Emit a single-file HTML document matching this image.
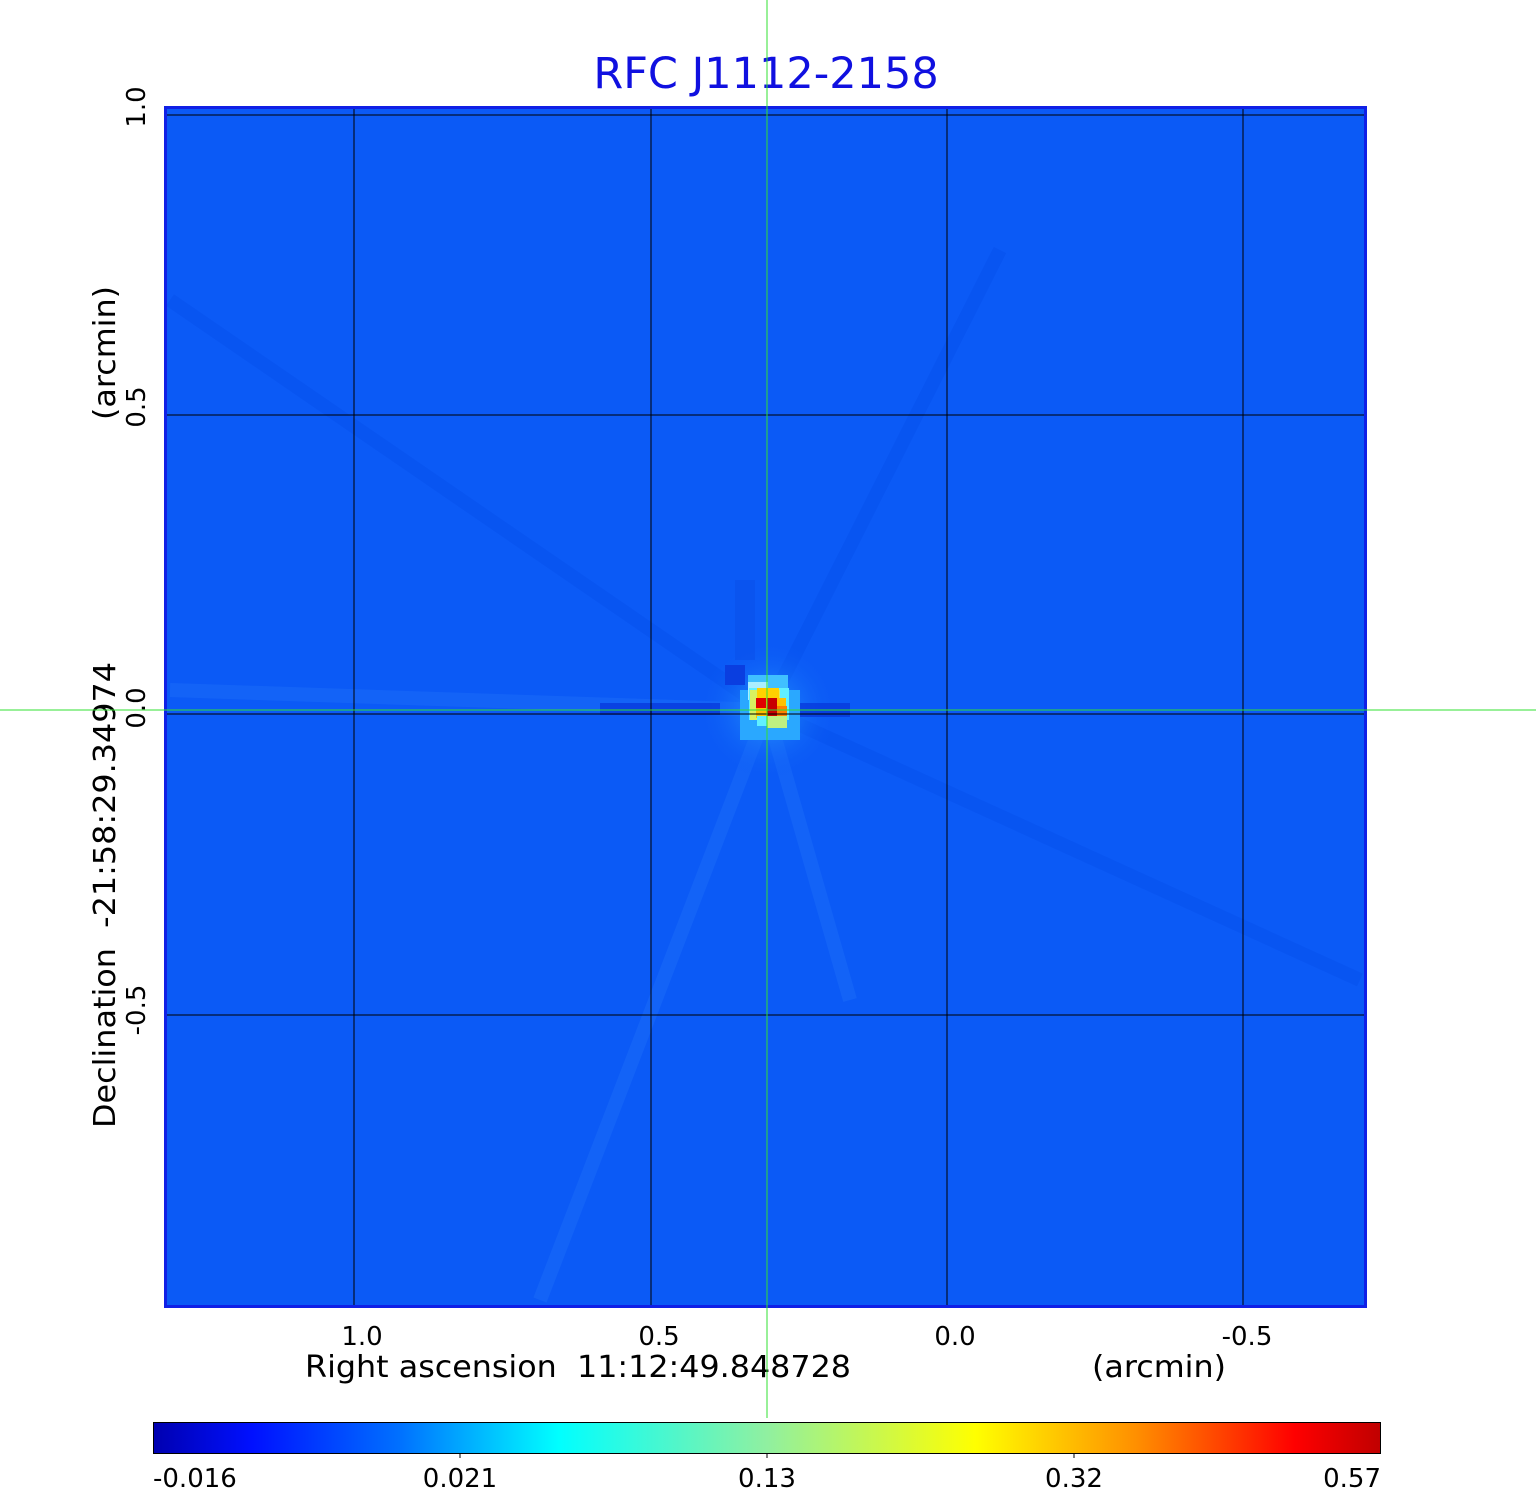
<!DOCTYPE html>
<html><head><meta charset="utf-8"><style>
html,body{margin:0;padding:0;background:#fff;}
svg{display:block;}
text{font-family:"DejaVu Sans","Liberation Sans",sans-serif;white-space:pre;}
</style></head><body>
<svg width="1536" height="1511" viewBox="0 0 1536 1511" xmlns="http://www.w3.org/2000/svg" xml:space="preserve">
<defs>
<linearGradient id="jet" x1="0" x2="1" y1="0" y2="0">
<stop offset="0" stop-color="#0000b0"/>
<stop offset="0.08" stop-color="#0010ff"/>
<stop offset="0.2" stop-color="#0070ff"/>
<stop offset="0.33" stop-color="#00ffff"/>
<stop offset="0.5" stop-color="#90f0a0"/>
<stop offset="0.67" stop-color="#ffff00"/>
<stop offset="0.8" stop-color="#ff9000"/>
<stop offset="0.93" stop-color="#ff0000"/>
<stop offset="1" stop-color="#c00000"/>
</linearGradient>
<radialGradient id="halo" cx="0.5" cy="0.5" r="0.5">
<stop offset="0" stop-color="#2aa0ff" stop-opacity="0.9"/>
<stop offset="1" stop-color="#0b58f6" stop-opacity="0"/>
</radialGradient>
</defs>
<text x="766" y="88" font-size="43" fill="#1010e0" text-anchor="middle">RFC J1112-2158</text>
<rect x="165" y="107" width="1201" height="1200" fill="#0b5af6"/>
<g stroke-width="14" opacity="0.18">
<line x1="767" y1="710" x2="170" y2="300" stroke="#0040e0"/>
<line x1="767" y1="710" x2="1000" y2="250" stroke="#0040e0"/>
<line x1="767" y1="710" x2="1360" y2="980" stroke="#0040e0"/>
<line x1="767" y1="710" x2="850" y2="1000" stroke="#3a90ff"/>
<line x1="767" y1="710" x2="540" y2="1300" stroke="#3a90ff"/>
<line x1="767" y1="710" x2="170" y2="690" stroke="#3a90ff"/>
</g>
<circle cx="768" cy="710" r="70" fill="url(#halo)"/>
<rect x="600" y="703" width="120" height="12" fill="#0535d8" opacity="0.7"/>
<rect x="795" y="703" width="55" height="14" fill="#0535d8" opacity="0.7"/>
<rect x="725" y="665" width="20" height="20" fill="#0a3ee0"/>
<rect x="735" y="580" width="20" height="80" fill="#0a4ee8" opacity="0.5"/>
<rect x="740" y="690" width="60" height="50" fill="#2aa8ff"/>
<rect x="748" y="675" width="40" height="15" fill="#40c0ff"/>
<rect x="748" y="682" width="20" height="18" fill="#aef"/>
<rect x="749" y="688" width="40" height="32" fill="#60f0ff"/>
<rect x="750" y="690" width="30" height="30" fill="#d8f060"/>
<rect x="757" y="688" width="22" height="12" fill="#ffd000"/>
<rect x="756" y="698" width="30" height="20" fill="#ffc000"/>
<rect x="756" y="698" width="10" height="10" fill="#e00000"/>
<rect x="767" y="698" width="10" height="20" fill="#c80000"/>
<rect x="777" y="706" width="10" height="10" fill="#ff8000"/>
<rect x="767" y="716" width="20" height="12" fill="#c0f080"/>
<rect x="757" y="716" width="10" height="10" fill="#60f0ff"/>
<g stroke="#000" stroke-width="1">
<line x1="354" y1="107" x2="354" y2="1307"/>
<line x1="651" y1="107" x2="651" y2="1307"/>
<line x1="947" y1="107" x2="947" y2="1307"/>
<line x1="1243" y1="107" x2="1243" y2="1307"/>
<line x1="165" y1="115" x2="1366" y2="115"/>
<line x1="165" y1="415" x2="1366" y2="415"/>
<line x1="165" y1="714" x2="1366" y2="714"/>
<line x1="165" y1="1015" x2="1366" y2="1015"/>
</g>
<rect x="165.5" y="107.5" width="1200" height="1199" fill="none" stroke="#1020e6" stroke-width="3"/>
<g font-size="26" fill="#000" text-anchor="middle">
<text x="362" y="1345">1.0</text>
<text x="659" y="1345">0.5</text>
<text x="955" y="1345">0.0</text>
<text x="1247" y="1345">-0.5</text>
</g>
<text x="305" y="1377" font-size="30" fill="#000" textLength="546" lengthAdjust="spacingAndGlyphs">Right ascension&#160;&#160;11:12:49.848728</text>
<text x="1092" y="1377" font-size="30" fill="#000" textLength="134" lengthAdjust="spacingAndGlyphs">(arcmin)</text>
<g font-size="26" fill="#000" text-anchor="middle">
<text transform="translate(145,107) rotate(-90)">1.0</text>
<text transform="translate(145,407) rotate(-90)">0.5</text>
<text transform="translate(145,708) rotate(-90)">0.0</text>
<text transform="translate(145,1010) rotate(-90)">-0.5</text>
</g>
<text transform="translate(115,1128) rotate(-90)" font-size="30" fill="#000" textLength="466" lengthAdjust="spacingAndGlyphs">Declination&#160;&#160;-21:58:29.34974</text>
<text transform="translate(115,420) rotate(-90)" font-size="30" fill="#000" textLength="134" lengthAdjust="spacingAndGlyphs">(arcmin)</text>
<line x1="767" y1="0" x2="767" y2="1418" stroke="#30e030" stroke-width="1"/>
<line x1="0" y1="710" x2="1536" y2="710" stroke="#30e030" stroke-width="1"/>
<rect x="153.5" y="1422.5" width="1227" height="31" fill="url(#jet)" stroke="#000" stroke-width="1"/>
<g stroke="#000"><line x1="460" y1="1453" x2="460" y2="1458"/><line x1="767" y1="1453" x2="767" y2="1458"/><line x1="1074" y1="1453" x2="1074" y2="1458"/></g>
<g font-size="26" fill="#000">
<text x="153" y="1487">-0.016</text>
<text x="460" y="1487" text-anchor="middle">0.021</text>
<text x="767" y="1487" text-anchor="middle">0.13</text>
<text x="1074" y="1487" text-anchor="middle">0.32</text>
<text x="1381" y="1487" text-anchor="end">0.57</text>
</g>
</svg>
</body></html>
